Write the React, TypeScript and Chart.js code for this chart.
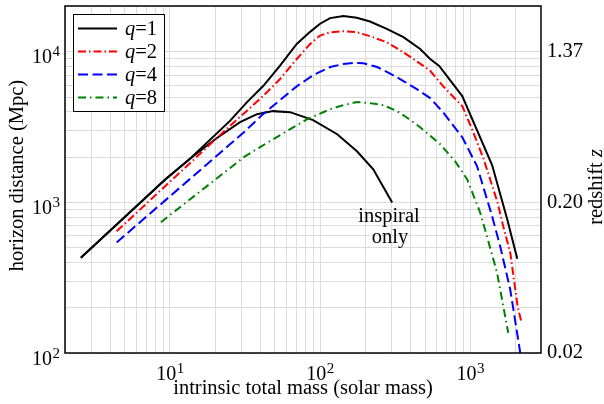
import React, { useEffect, useRef } from 'react';
import { Chart, registerables } from 'chart.js';

Chart.register(...registerables);

const FONT = "'Liberation Serif', 'Times New Roman', serif";

// ---- data (intrinsic total mass in solar masses, horizon distance in Mpc) ----
const q1Mass = [2.55, 9.3, 13.6, 25.1, 32.5, 41.9, 54.1, 69.9, 85.8, 100, 116.6, 143, 175.6, 215, 278, 359, 464, 541, 621, 885, 1400, 1765, 2057];
const q1Dist = [430, 1420, 1950, 3483, 4624, 5957, 8110, 11300, 13600, 15400, 16780, 17300, 16850, 15920, 14230, 12530, 10470, 8990, 8070, 5090, 1765, 770, 423];

const q2Mass = [4.42, 9.26, 25.1, 32.5, 41.9, 54.1, 69.9, 85.8, 100, 116.6, 143, 175.6, 215, 278, 359, 419, 541, 659, 885, 1028, 1230, 1520, 1660, 1848, 2070, 2190];
const q2Dist = [644, 1279, 3226, 4060, 5115, 6607, 8980, 11300, 12850, 13520, 13740, 13520, 12730, 11600, 9950, 8980, 7500, 5930, 4365, 3070, 1935, 1000, 692, 464, 203, 161];

const q4Mass = [4.42, 25.1, 31.6, 41.7, 70.2, 90.2, 117, 143, 166, 194.5, 240, 293, 359, 441, 541, 659, 885, 1111, 1400, 1585, 1848, 2154, 2320];
const q4Dist = [543, 2436, 2972, 3863, 5930, 7025, 7943, 8318, 8450, 8410, 7943, 7190, 6410, 5665, 4935, 3981, 2712, 1738, 807, 509, 263, 100, 61];

const q8Mass = [8.71, 31.6, 48.6, 82.1, 117, 143, 176, 215, 264, 325, 378, 464, 631, 794, 955, 1164, 1294, 1509, 1791];
const q8Dist = [740, 2027, 2630, 3575, 4169, 4436, 4645, 4571, 4430, 4045, 3670, 3162, 2436, 1875, 1423, 858, 593, 342, 136];

const inspiralMass = [2.55, 9.3, 13.6, 20, 29.3, 38, 48.6, 63.1, 89.8, 130, 176, 226, 302];
const inspiralDist = [430, 1420, 1950, 2630, 3415, 3860, 4045, 3981, 3522, 2840, 2188, 1660, 1000];

const massTickLabels = [10, 100, 1000];
const distTickLabels = [100, 1000, 10000];
const redshiftTickValues = [100, 1000, 10000];
const redshiftTickLabels = ['0.02', '0.20', '1.37'];
const legendQ = ['1', '2', '4', '8'];

const X_MIN = 2;
const X_MAX = 2960;
const Y_MIN = 100;
const Y_MAX = 20200;

const zip = (xs: number[], ys: number[]) => xs.map((x, i) => ({ x, y: ys[i] }));

function logGridTicks(min: number, max: number) {
  const out: { value: number }[] = [];
  const e0 = Math.floor(Math.log10(min));
  const e1 = Math.ceil(Math.log10(max));
  for (let e = e0; e <= e1; e++) {
    for (let k = 1; k < 10; k++) {
      const v = k * Math.pow(10, e);
      if (v >= min * 0.9999 && v <= max * 1.0001) out.push({ value: v });
    }
  }
  return out;
}

const seriesStyles = [
  { color: '#000000', dash: [] as number[] },
  { color: '#ff0000', dash: [8, 3, 1.5, 3] },
  { color: '#0000ff', dash: [10, 4.5] },
  { color: '#008000', dash: [8, 4, 1.5, 4] },
];

const overlayPlugin = {
  id: 'overlay',
  afterDraw(chart: any) {
    const ctx: CanvasRenderingContext2D = chart.ctx;
    const { left, right, top, bottom } = chart.chartArea;
    const xs = chart.scales.x;
    const ys = chart.scales.y;
    ctx.save();

    // frame
    ctx.strokeStyle = '#000';
    ctx.lineWidth = 1.5;
    ctx.setLineDash([]);
    ctx.strokeRect(left, top, right - left, bottom - top);

    ctx.fillStyle = '#000';
    ctx.textBaseline = 'alphabetic';
    ctx.textAlign = 'left';
    const base = `20px ${FONT}`;
    const sup = `15px ${FONT}`;

    // x tick labels 10^n
    for (const v of massTickLabels) {
      const px = xs.getPixelForValue(v);
      const exp = String(Math.round(Math.log10(v)));
      ctx.font = base;
      const wb = ctx.measureText('10').width;
      ctx.font = sup;
      const we = ctx.measureText(exp).width;
      const x0 = px - (wb + we) / 2;
      ctx.font = base;
      ctx.fillText('10', x0, bottom + 27);
      ctx.font = sup;
      ctx.fillText(exp, x0 + wb + 0.5, bottom + 20);
    }
    // y tick labels 10^n
    for (const v of distTickLabels) {
      const py = ys.getPixelForValue(v);
      const exp = String(Math.round(Math.log10(v)));
      ctx.font = base;
      const wb = ctx.measureText('10').width;
      ctx.font = sup;
      const we = ctx.measureText(exp).width;
      const x0 = left - 5 - we - wb - 0.5;
      ctx.font = base;
      ctx.fillText('10', x0, py + 11.5);
      ctx.font = sup;
      ctx.fillText(exp, x0 + wb + 0.5, py + 4.5);
    }

    // axis titles
    const tf = `20.5px ${FONT}`;
    const tfi = `italic 20.5px ${FONT}`;
    ctx.font = tf;
    ctx.textAlign = 'center';
    ctx.fillText('intrinsic total mass (solar mass)', (left + right) / 2, 394);

    ctx.save();
    ctx.translate(22.5, (top + bottom) / 2 - 4);
    ctx.rotate(-Math.PI / 2);
    ctx.fillText('horizon distance (Mpc)', 0, 0);
    ctx.restore();

    ctx.save();
    ctx.translate(602, 187);
    ctx.rotate(-Math.PI / 2);
    ctx.textAlign = 'left';
    ctx.font = tf;
    const w1 = ctx.measureText('redshift ').width;
    ctx.font = tfi;
    const w2 = ctx.measureText('z').width;
    const sx = -(w1 + w2) / 2;
    ctx.font = tf;
    ctx.fillText('redshift ', sx, 0);
    ctx.font = tfi;
    ctx.fillText('z', sx + w1, 0);
    ctx.restore();

    // annotation
    ctx.font = tf;
    ctx.textAlign = 'center';
    ctx.fillText('inspiral', 389, 222);
    ctx.fillText('only', 390, 242.5);

    // legend
    const bx = 73.5, by = 14.5, bw = 91, bh = 97;
    ctx.fillStyle = '#fff';
    ctx.fillRect(bx, by, bw, bh);
    ctx.strokeStyle = '#000';
    ctx.lineWidth = 1;
    ctx.strokeRect(bx, by, bw, bh);
    legendQ.forEach((q, i) => {
      const ry = 28.5 + i * 23;
      const st = seriesStyles[i];
      ctx.strokeStyle = st.color;
      ctx.lineWidth = 2;
      ctx.setLineDash(st.dash);
      ctx.beginPath();
      ctx.moveTo(78, ry);
      ctx.lineTo(117, ry);
      ctx.stroke();
      ctx.setLineDash([]);
      ctx.fillStyle = '#000';
      ctx.textAlign = 'left';
      ctx.font = tfi;
      ctx.fillText('q', 125, ry + 6.5);
      const wq = ctx.measureText('q').width;
      ctx.font = tf;
      ctx.fillText('=' + q, 125 + wq, ry + 6.5);
    });

    ctx.restore();
  },
};

function lineDataset(label: string, xs: number[], ys: number[], idx: number) {
  const st = seriesStyles[idx];
  return {
    label,
    data: zip(xs, ys),
    borderColor: st.color,
    backgroundColor: st.color,
    borderWidth: 2,
    borderDash: st.dash,
    pointRadius: 0,
    tension: 0,
    fill: false,
    clip: 0,
  };
}

export default function App() {
  const ref = useRef<HTMLCanvasElement>(null);
  useEffect(() => {
    if (!ref.current) return;
    Chart.defaults.font.family = FONT;
    const chart = new Chart(ref.current, {
      type: 'line',
      data: {
        datasets: [
          lineDataset('q=1', q1Mass, q1Dist, 0),
          lineDataset('q=2', q2Mass, q2Dist, 1),
          lineDataset('q=4', q4Mass, q4Dist, 2),
          lineDataset('q=8', q8Mass, q8Dist, 3),
          lineDataset('inspiral only', inspiralMass, inspiralDist, 0),
        ],
      },
      options: {
        animation: false,
        responsive: false,
        devicePixelRatio: 1,
        layout: { padding: { top: 6, left: 0, right: 0, bottom: 0 } },
        plugins: { legend: { display: false }, tooltip: { enabled: false } },
        scales: {
          x: {
            type: 'logarithmic',
            min: X_MIN,
            max: X_MAX,
            afterBuildTicks: (s: any) => { s.ticks = logGridTicks(X_MIN, X_MAX); },
            ticks: { display: false },
            grid: { color: '#dcdcdc', lineWidth: 1, drawTicks: false },
            border: { display: false },
            afterFit: (s: any) => { s.height = 51; s.paddingLeft = 0; s.paddingRight = 0; },
          },
          y: {
            type: 'logarithmic',
            position: 'left',
            min: Y_MIN,
            max: Y_MAX,
            afterBuildTicks: (s: any) => { s.ticks = logGridTicks(Y_MIN, Y_MAX); },
            ticks: { display: false },
            grid: { color: '#dcdcdc', lineWidth: 1, drawTicks: false },
            border: { display: false },
            afterFit: (s: any) => { s.width = 65; s.paddingTop = 0; s.paddingBottom = 0; },
          },
          y2: {
            type: 'logarithmic',
            position: 'right',
            min: Y_MIN,
            max: Y_MAX,
            afterBuildTicks: (s: any) => { s.ticks = redshiftTickValues.map((v) => ({ value: v })); },
            ticks: {
              color: '#000',
              padding: 6,
              font: { size: 20.5, family: FONT },
              callback: (v: any) => {
                const i = redshiftTickValues.indexOf(Number(v));
                return i >= 0 ? redshiftTickLabels[i] : '';
              },
            },
            grid: { display: false, drawTicks: false },
            border: { display: false },
            afterFit: (s: any) => { s.width = 63; s.paddingTop = 0; s.paddingBottom = 0; },
          },
        },
      } as any,
      plugins: [overlayPlugin],
    });
    return () => chart.destroy();
  }, []);
  return (
    <div style={{ position: 'fixed', left: 0, top: 0, width: 604, height: 404, background: '#fff' }}>
      <canvas ref={ref} width={604} height={404} style={{ width: 604, height: 404, display: 'block' }} />
    </div>
  );
}
